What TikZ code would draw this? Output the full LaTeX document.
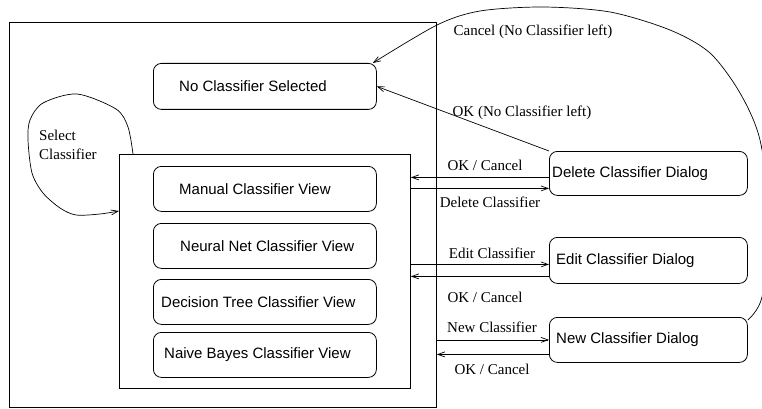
\documentclass[tikz,border=0pt]{standalone}
\usepackage{fontspec}
\setmainfont{Liberation Serif}
\newfontfamily\boxfont{Liberation Sans}
\usetikzlibrary{arrows.meta}

\begin{document}
\begin{tikzpicture}[x=1pt,y=-1pt,
  every node/.style={inner sep=0pt},
  frame/.style={draw, line width=0.8pt, anchor=north west},
  state/.style={draw, rounded corners=8pt, line width=0.8pt, anchor=north west},
  wide/.style={minimum width=223pt},
  dlg/.style={minimum width=198pt},
  boxlbl/.style={font=\boxfont\fontsize{15}{18}\selectfont, anchor=west},
  tlbl/.style={font=\fontsize{15}{19}\selectfont},
  tr/.style={line width=0.7pt, -{Straight Barb[length=7pt,width=5pt]}}
]
\useasboundingbox (0,0) rectangle (762,409);
\clip (0,0) rectangle (762,409);

% containers
\node[frame, minimum width=427pt, minimum height=385pt] (outer) at (9,22) {};
\node[frame, minimum width=291pt, minimum height=234pt] (inner) at (119,154) {};

% states inside the view
\node[state, wide, minimum height=46pt] (ncs) at (153,63) {};
\node[state, wide, minimum height=45pt] (manual) at (153,166) {};
\node[state, wide, minimum height=45pt] (neural) at (153,223) {};
\node[state, wide, minimum height=45pt] (dtree) at (153,279) {};
\node[state, wide, minimum height=45pt] (nbayes) at (153,332) {};

% dialogs
\node[state, dlg, minimum height=44pt] (del) at (549,151) {};
\node[state, dlg, minimum height=46pt] (edit) at (549,237) {};
\node[state, dlg, minimum height=45pt] (new) at (549,317) {};

% state texts
\node[boxlbl] (tncs) at ([xshift=26pt]ncs.west) {No Classifier Selected};
\node[boxlbl] (tmanual) at ([xshift=26pt]manual.west) {Manual Classifier View};
\node[boxlbl] (tneural) at ([xshift=27pt]neural.west) {Neural Net Classifier View};
\node[boxlbl] (tdtree) at ([xshift=8pt]dtree.west) {Decision Tree Classifier View};
\node[boxlbl] (tnbayes) at ([xshift=11pt]nbayes.west) {Naive Bayes Classifier View};
\node[boxlbl] (tdel) at ([xshift=3pt]del.west) {Delete Classifier Dialog};
\node[boxlbl] (tedit) at ([xshift=7pt]edit.west) {Edit Classifier Dialog};
\node[boxlbl] (tnew) at ([xshift=7pt]new.west) {New Classifier Dialog};

% transitions between the view and the dialogs
\coordinate (d1) at ([yshift=-4pt]del.west);
\coordinate (d2) at ([yshift=-15pt]del.west);
\coordinate (e1) at ([yshift=-4pt]edit.west);
\coordinate (e2) at ([yshift=-16pt]edit.west);
\coordinate (n1) at (new.west);
\coordinate (n2) at ([yshift=-14.5pt]new.west);

\draw[tr] (d1) -- (d1 -| inner.east);
\draw[tr] (d2 -| inner.east) -- (d2);
\draw[tr] (e1 -| inner.east) -- (e1);
\draw[tr] (e2) -- (e2 -| inner.east);
\draw[tr] (n1 -| outer.east) -- (n1);
\draw[tr] (n2) -- (n2 -| outer.east);

\node[tlbl] (lokd) at (485,165) {OK / Cancel};
\node[tlbl] (ldel) at (490,202) {Delete Classifier};
\node[tlbl] (ledit) at (492,253) {Edit Classifier};
\node[tlbl] (loke) at (485,297) {OK / Cancel};
\node[tlbl] (lnew) at (492,327) {New Classifier};
\node[tlbl] (lokn) at (492,369) {OK / Cancel};

% deleting the last classifier
\draw[tr] (del.north west) -- (ncs.east);
\node[tlbl] (lok) at (522,113) {OK (No Classifier left)};

% cancelling a new classifier with none left
\coordinate (c1) at ([yshift=-3pt]new.north east);
\coordinate (c2) at ([xshift=-4pt]ncs.north east);
\draw[tr] plot[smooth] coordinates {(c1) (762,297) (770,220) (760,140) (740,93) (710,53) (670,30) (610,12) (543,7) (480,11) (437,25) (c2)};
\node[tlbl] (lcancel) at (533,32) {Cancel (No Classifier left)};

% selecting a classifier from the empty view
\coordinate (s1) at ([xshift=14pt]inner.north west);
\coordinate (s2) at ([yshift=-57pt]inner.north west);
\draw[tr] plot[smooth] coordinates {(s1) (128,127) (116,109) (77,94) (43,103) (30,120) (28,140) (32,173) (43,193) (60,208) (76,215) (100,214) (s2)};
\node[tlbl, align=left, anchor=west] (lsel) at (39,144.5) {Select\\Classifier};
\end{tikzpicture}
\end{document}
